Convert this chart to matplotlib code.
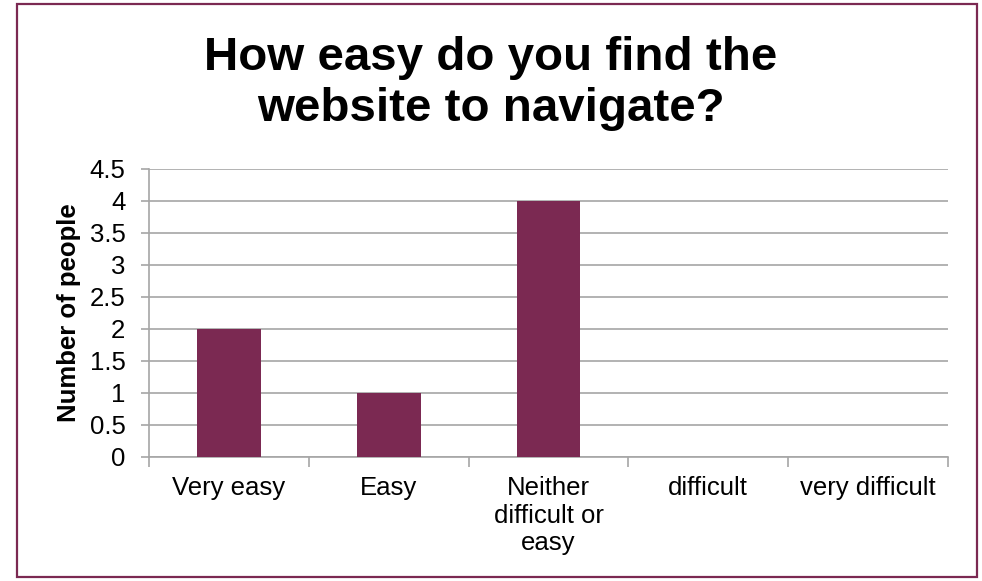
import matplotlib.pyplot as plt
from matplotlib.patches import Rectangle

categories = ["Very easy", "Easy", "Neither\ndifficult or\neasy", "difficult", "very difficult"]
counts = [2, 1, 4, 0, 0]
yticks = [0, 0.5, 1, 1.5, 2, 2.5, 3, 3.5, 4, 4.5]
ytick_labels = ["0", "0.5", "1", "1.5", "2", "2.5", "3", "3.5", "4", "4.5"]

BAR = "#7b2952"
GRID = "#a6a6a6"

plt.rcParams["font.family"] = ["Liberation Sans", "DejaVu Sans"]

fig = plt.figure(figsize=(9.82, 5.81), dpi=100, facecolor="white")
ax = fig.add_axes([149 / 982, 1 - 457 / 581, (948 - 149) / 982, (457 - 169) / 581])

x = list(range(len(categories)))
ax.bar(x, counts, width=0.4, color=BAR, zorder=3)

ax.set_xlim(-0.5, len(categories) - 0.5)
ax.set_ylim(0, 4.5)
ax.set_yticks(yticks)
ax.set_yticklabels(ytick_labels, fontsize=18.5)
ax.yaxis.grid(True, color=GRID, linewidth=1.2, zorder=0)

# category labels sit between boundary ticks
ax.set_xticks([i - 0.5 for i in range(len(categories) + 1)])
ax.set_xticklabels([])
ax.set_xticks(x, minor=True)
ax.set_xticklabels(categories, minor=True, fontsize=18.5, linespacing=1.18, va="top")
ax.tick_params(axis="x", which="minor", length=0, pad=14)
ax.tick_params(axis="x", which="major", length=7, color=GRID, width=1.2)
ax.tick_params(axis="y", length=6, color=GRID, width=1.2, pad=11)

for side in ["top", "right"]:
    ax.spines[side].set_visible(False)
for side in ["left", "bottom"]:
    ax.spines[side].set_color(GRID)
    ax.spines[side].set_linewidth(1.2)

ax.set_ylabel("Number of people", fontsize=18.5, fontweight="bold", labelpad=6)

fig.text(0.5, 0.856, "How easy do you find the\nwebsite to navigate?", ha="center", va="center",
         fontsize=34.2, fontweight="bold", linespacing=1.22)

fig.patches.append(Rectangle((17 / 982, 4 / 581), 960 / 982, 573 / 581, transform=fig.transFigure,
                             fill=False, edgecolor=BAR, linewidth=1.6))

fig.savefig("out.png", dpi=100)
plt.close(fig)
